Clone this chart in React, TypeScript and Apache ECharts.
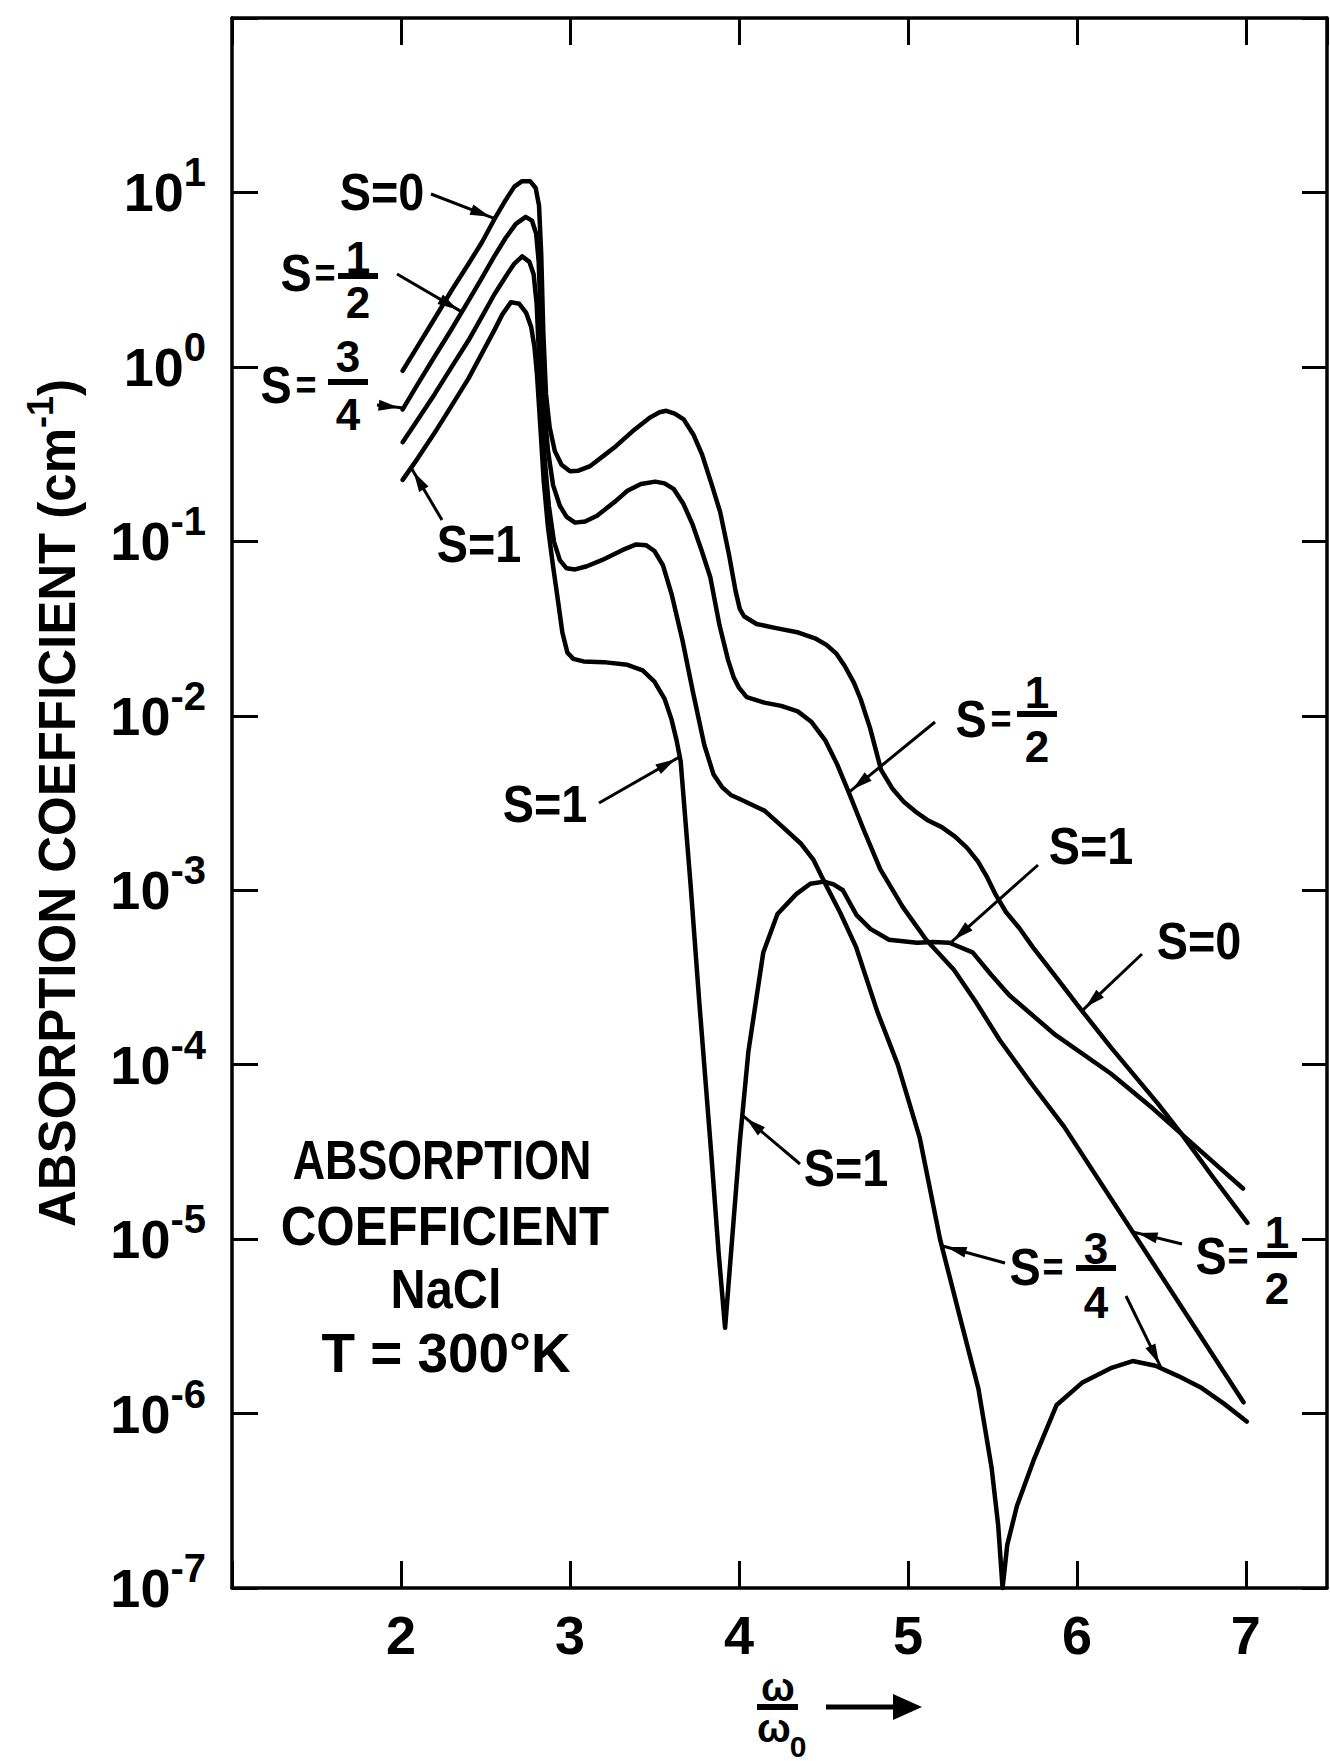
import React, { useEffect, useRef } from "react";
import * as echarts from "echarts";

type Pt = [number, number];

// omega/omega0 vs absorption coefficient (cm^-1)
const curveS0: Pt[] = [
  [2.01, 0.95], [2.1, 1.32], [2.2, 1.9], [2.3, 2.75], [2.4, 3.9], [2.48, 5.2],
  [2.552, 7.0], [2.618, 9.0], [2.671, 10.8], [2.717, 11.6], [2.764, 11.6], [2.797, 10.6],
  [2.817, 8.4], [2.83, 4.4], [2.842, 1.6], [2.858, 0.7], [2.88, 0.45], [2.91, 0.33],
  [2.95, 0.275], [3.0, 0.252], [3.05, 0.254], [3.12, 0.27], [3.2, 0.31], [3.27, 0.35],
  [3.37, 0.427], [3.47, 0.51], [3.53, 0.55], [3.57, 0.56], [3.62, 0.54], [3.673, 0.5],
  [3.73, 0.41], [3.782, 0.314], [3.84, 0.21], [3.889, 0.147], [3.94, 0.085], [3.98, 0.052],
  [4.005, 0.041], [4.03, 0.0372], [4.104, 0.0336], [4.22, 0.0318], [4.352, 0.03],
  [4.45, 0.0278], [4.518, 0.0255], [4.575, 0.0228], [4.626, 0.0193], [4.68, 0.0155],
  [4.721, 0.0124], [4.776, 0.0085], [4.841, 0.0049], [4.91, 0.0038], [4.977, 0.0032],
  [5.05, 0.0028], [5.114, 0.00253], [5.2, 0.0023], [5.279, 0.00203], [5.35, 0.00175],
  [5.415, 0.00146], [5.47, 0.00118], [5.52, 0.00094], [5.58, 0.00075], [5.66, 0.000605],
  [5.74, 0.00047], [5.824, 0.00037], [5.92, 0.00028], [6.014, 0.000213], [6.2, 0.000126],
  [6.478, 0.00006], [6.62, 0.00004], [6.8, 0.000023], [7.009, 0.0000124],
];

const curveS12: Pt[] = [
  [2.01, 0.57], [2.1, 0.8], [2.2, 1.15], [2.3, 1.65], [2.4, 2.4], [2.48, 3.25],
  [2.552, 4.3], [2.62, 5.5], [2.68, 6.6], [2.738, 7.25], [2.775, 6.9], [2.8, 5.8],
  [2.815, 4.0], [2.826, 2.0], [2.836, 1.0], [2.85, 0.55], [2.87, 0.33], [2.9, 0.21],
  [2.94, 0.16], [2.98, 0.138], [3.03, 0.128], [3.09, 0.13], [3.16, 0.14], [3.27, 0.17],
  [3.34, 0.195], [3.42, 0.213], [3.505, 0.22], [3.56, 0.215], [3.615, 0.199], [3.67, 0.165],
  [3.724, 0.126], [3.78, 0.088], [3.831, 0.062], [3.885, 0.033], [3.935, 0.021],
  [3.97, 0.0165], [4.0, 0.0145], [4.046, 0.0128], [4.15, 0.0119], [4.25, 0.0114],
  [4.348, 0.0106], [4.43, 0.0092], [4.512, 0.0072], [4.58, 0.0053], [4.647, 0.0037],
  [4.74, 0.0022], [4.836, 0.00132], [4.97, 0.0008], [5.108, 0.00052], [5.272, 0.00035],
  [5.4, 0.00023], [5.544, 0.000138], [5.73, 0.000078], [5.925, 0.000044], [6.45, 0.0000073],
  [6.986, 0.00000116],
];

const curveS34: Pt[] = [
  [2.01, 0.37], [2.1, 0.5], [2.2, 0.7], [2.3, 1.0], [2.4, 1.42], [2.48, 1.95],
  [2.552, 2.6], [2.62, 3.3], [2.67, 3.9], [2.717, 4.3], [2.76, 4.0], [2.785, 3.4],
  [2.803, 2.3], [2.816, 1.2], [2.83, 0.6], [2.85, 0.3], [2.875, 0.16], [2.905, 0.1],
  [2.94, 0.078], [2.98, 0.07], [3.03, 0.069], [3.1, 0.072], [3.188, 0.078], [3.309, 0.089],
  [3.392, 0.096], [3.45, 0.095], [3.5, 0.088], [3.55, 0.073], [3.601, 0.05], [3.666, 0.027],
  [3.729, 0.0135], [3.795, 0.0068], [3.85, 0.0046], [3.9, 0.0039], [3.955, 0.0035],
  [4.014, 0.0033], [4.151, 0.00286], [4.26, 0.0023], [4.369, 0.00184], [4.44, 0.0015],
  [4.505, 0.00112], [4.6, 0.00074], [4.694, 0.00047], [4.82, 0.0002], [4.94, 0.0001],
  [5.07, 0.000038], [5.19, 0.00001], [5.31, 0.0000035], [5.417, 0.00000139],
  [5.495, 0.00000049], [5.534, 0.00000023], [5.56, 0.0000001], [5.588, 0.000000177],
  [5.645, 0.000000295], [5.744, 0.00000054], [5.88, 0.00000112], [6.03, 0.0000015],
  [6.2, 0.00000182], [6.33, 0.000002], [6.465, 0.00000188], [6.6, 0.00000164],
  [6.739, 0.0000014], [6.87, 0.00000114], [7.005, 0.0000009],
];

const curveS1: Pt[] = [
  [2.01, 0.225], [2.1, 0.3], [2.2, 0.42], [2.3, 0.6], [2.4, 0.86], [2.48, 1.2],
  [2.552, 1.62], [2.6, 2.0], [2.651, 2.35], [2.7, 2.3], [2.74, 2.05], [2.77, 1.7],
  [2.79, 1.3], [2.805, 0.9], [2.822, 0.5], [2.845, 0.22], [2.87, 0.12], [2.9, 0.072],
  [2.93, 0.045], [2.955, 0.03], [2.985, 0.023], [3.02, 0.0212], [3.08, 0.0205],
  [3.2, 0.0203], [3.34, 0.0196], [3.43, 0.0182], [3.5, 0.0157], [3.56, 0.0125],
  [3.6, 0.0096], [3.63, 0.0073], [3.655, 0.0055], [3.714, 0.00107], [3.766, 0.000224],
  [3.836, 0.000031], [3.88, 0.0000083], [3.918, 0.0000031], [4.006, 0.000037],
  [4.056, 0.000119], [4.144, 0.00044], [4.228, 0.00073], [4.339, 0.00095], [4.422, 0.00109],
  [4.505, 0.00112], [4.56, 0.00108], [4.615, 0.001], [4.696, 0.00072], [4.778, 0.0006],
  [4.888, 0.00052], [5.054, 0.0005], [5.15, 0.000505], [5.245, 0.0005], [5.383, 0.00044],
  [5.49, 0.00033], [5.6, 0.00025], [5.873, 0.000148], [6.2, 0.000089], [6.45, 0.000056],
  [6.62, 0.00004], [6.8, 0.000028], [6.983, 0.0000195],
];

const xTickLabels = ["2", "3", "4", "5", "6", "7"];

const FONT = '"Liberation Sans", "DejaVu Sans", Arial, sans-serif';

// annotation layout (page pixels)
const intLabels = [
  { text: "S=0", x: 382, y: 192 },
  { text: "S=1", x: 479, y: 544 },
  { text: "S=1", x: 545, y: 804 },
  { text: "S=1", x: 1091, y: 846 },
  { text: "S=0", x: 1199, y: 941 },
  { text: "S=1", x: 846, y: 1168 },
];

const fracLabels = [
  { num: "1", den: "2", sx: 296, sy: 273, ex: 325, fx: 358, numY: 257, barY: 276, denY: 302 },
  { num: "3", den: "4", sx: 276, sy: 385, ex: 306, fx: 348, numY: 356, barY: 382, denY: 414 },
  { num: "1", den: "2", sx: 971, sy: 719, ex: 1001, fx: 1037, numY: 692, barY: 714, denY: 746 },
  { num: "3", den: "4", sx: 1025, sy: 1267, ex: 1053, fx: 1096, numY: 1248, barY: 1268, denY: 1302 },
  { num: "1", den: "2", sx: 1211, sy: 1256, ex: 1238, fx: 1277, numY: 1232, barY: 1255, denY: 1288 },
];

const arrows: { from: Pt; curve: Pt[]; at: number }[] = [
  { from: [431, 194], curve: curveS0, at: 2.555 },
  { from: [397, 274], curve: curveS12, at: 2.36 },
  { from: [377, 405], curve: curveS12, at: 2.015 },
  { from: [442, 520], curve: curveS1, at: 2.06 },
  { from: [599, 803], curve: curveS1, at: 3.65 },
  { from: [935, 722], curve: curveS12, at: 4.65 },
  { from: [1038, 865], curve: curveS1, at: 5.25 },
  { from: [1142, 954], curve: curveS0, at: 6.03 },
  { from: [800, 1164], curve: curveS1, at: 4.02 },
  { from: [1005, 1263], curve: curveS34, at: 5.2 },
  { from: [1126, 1296], curve: curveS34, at: 6.5 },
  { from: [1182, 1244], curve: curveS12, at: 6.33 },
];

const noteLines = [
  { text: "ABSORPTION", x: 442, y: 1160, sx: 0.8 },
  { text: "COEFFICIENT", x: 445, y: 1225, sx: 0.88 },
  { text: "NaCl", x: 446, y: 1288, sx: 0.87 },
  { text: "T = 300°K", x: 446, y: 1353, sx: 0.98 },
];

function valueAt(curve: Pt[], x: number): number {
  for (let i = 0; i < curve.length - 1; i++) {
    const [x0, y0] = curve[i];
    const [x1, y1] = curve[i + 1];
    if (x >= x0 && x <= x1) {
      const t = (x - x0) / (x1 - x0);
      return Math.pow(10, Math.log10(y0) + t * (Math.log10(y1) - Math.log10(y0)));
    }
  }
  return curve[curve.length - 1][1];
}

function txt(text: string, x: number, y: number, size: number, scaleX = 1) {
  return {
    type: "text",
    x,
    y,
    scaleX,
    silent: true,
    style: {
      text,
      fill: "#000",
      font: `bold ${size}px ${FONT}`,
      align: "center",
      verticalAlign: "middle",
      textAlign: "center",
      textVerticalAlign: "middle",
    },
  };
}

export default function App() {
  const ref = useRef<HTMLDivElement>(null);

  useEffect(() => {
    if (!ref.current) return;
    const chart = echarts.init(ref.current, null, { renderer: "svg" });
    const axisLineStyle = { color: "#000", width: 3.5 };
    const tickStyle = { color: "#000", width: 3 };

    const lineSeries = (name: string, data: Pt[]) => ({
      name,
      type: "line",
      data,
      showSymbol: false,
      symbol: "none",
      silent: true,
      clip: false,
      lineStyle: { color: "#000", width: 4.5, join: "round", cap: "round" },
      emphasis: { disabled: true },
    });

    const xLabelFormatter = (v: number) => {
      if (Math.abs(v - Math.round(v)) > 1e-6) return "";
      const s = String(Math.round(v));
      return xTickLabels.indexOf(s) >= 0 ? s : "";
    };

    const option: any = {
      animation: false,
      backgroundColor: "#fff",
      grid: {
        left: 232,
        top: 18,
        width: 1095,
        height: 1570,
        containLabel: false,
        outerBoundsMode: "none",
      },
      xAxis: [
        {
          type: "value",
          position: "bottom",
          min: 1,
          max: 7.48,
          interval: 1,
          axisLine: { show: true, lineStyle: axisLineStyle },
          axisTick: { show: true, inside: true, length: 27, lineStyle: tickStyle },
          splitLine: { show: false },
          axisLabel: {
            margin: 20,
            color: "#000",
            fontFamily: FONT,
            fontWeight: "bold",
            fontSize: 54,
            showMaxLabel: false,
            formatter: xLabelFormatter,
          },
        },
        {
          type: "value",
          position: "top",
          min: 1,
          max: 7.48,
          interval: 1,
          axisLine: { show: true, lineStyle: axisLineStyle },
          axisTick: { show: true, inside: true, length: 27, lineStyle: tickStyle },
          splitLine: { show: false },
          axisLabel: { show: false },
        },
      ],
      yAxis: [
        {
          type: "log",
          logBase: 10,
          position: "left",
          min: 1e-7,
          max: 100,
          splitNumber: 9,
          axisLine: { show: true, lineStyle: axisLineStyle },
          axisTick: { show: true, inside: true, length: 26, lineStyle: tickStyle },
          splitLine: { show: false },
          minorTick: { show: false },
          axisLabel: {
            margin: 26,
            formatter: (v: number) => {
              const e = Math.round(Math.log10(v));
              if (e >= 2) return "";
              const sup = e < 0 ? "-" + String(-e) : String(e);
              return `{b|10}{s|${sup}}`;
            },
            rich: {
              b: { fontFamily: FONT, fontWeight: "bold", fontSize: 54, lineHeight: 80, color: "#000" },
              s: {
                fontFamily: FONT,
                fontWeight: "bold",
                fontSize: 40,
                lineHeight: 40,
                verticalAlign: "top",
                color: "#000",
              },
            },
          },
          name: "{a|ABSORPTION COEFFICIENT (cm}{s|-1}{a|)}",
          nameLocation: "middle",
          nameRotate: 90,
          nameGap: 140,
          nameTextStyle: {
            rich: {
              a: { fontFamily: FONT, fontWeight: "bold", fontSize: 51, lineHeight: 70, color: "#000" },
              s: {
                fontFamily: FONT,
                fontWeight: "bold",
                fontSize: 36,
                lineHeight: 36,
                verticalAlign: "top",
                color: "#000",
              },
            },
          },
        },
        {
          type: "log",
          logBase: 10,
          position: "right",
          min: 1e-7,
          max: 100,
          splitNumber: 9,
          axisLine: { show: true, lineStyle: axisLineStyle },
          axisTick: { show: true, inside: true, length: 25, lineStyle: tickStyle },
          splitLine: { show: false },
          minorTick: { show: false },
          axisLabel: { show: false },
        },
      ],
      series: [
        lineSeries("S=0", curveS0),
        lineSeries("S=1/2", curveS12),
        lineSeries("S=3/4", curveS34),
        lineSeries("S=1", curveS1),
      ],
    };

    chart.setOption(option);

    const toPx = (p: Pt) =>
      chart.convertToPixel({ xAxisIndex: 0, yAxisIndex: 0 }, p) as unknown as number[];

    const g: any[] = [];

    intLabels.forEach((l) => g.push(txt(l.text, l.x, l.y, 52, 0.9)));

    fracLabels.forEach((f) => {
      g.push(txt("S", f.sx, f.sy, 52, 0.9));
      g.push(txt("=", f.ex, f.sy, 40, 0.9));
      g.push(txt(f.num, f.fx, f.numY, 44));
      g.push({
        type: "rect",
        silent: true,
        shape: { x: f.fx - 20, y: f.barY - 3, width: 40, height: 6 },
        style: { fill: "#000" },
      });
      g.push(txt(f.den, f.fx, f.denY, 44));
    });

    arrows.forEach((a) => {
      const tip = toPx([a.at, valueAt(a.curve, a.at)]);
      const [tx, ty] = a.from;
      const dx = tip[0] - tx;
      const dy = tip[1] - ty;
      const L = Math.hypot(dx, dy) || 1;
      const ux = dx / L;
      const uy = dy / L;
      const hx = tip[0] - ux * 5;
      const hy = tip[1] - uy * 5;
      const bx = hx - ux * 20;
      const by = hy - uy * 20;
      const px = -uy * 5.5;
      const py = ux * 5.5;
      g.push({
        type: "line",
        silent: true,
        shape: { x1: tx, y1: ty, x2: tip[0], y2: tip[1] },
        style: { stroke: "#000", lineWidth: 3 },
      });
      g.push({
        type: "polygon",
        silent: true,
        shape: { points: [[hx, hy], [bx + px, by + py], [bx - px, by - py]] },
        style: { fill: "#000" },
      });
    });

    noteLines.forEach((n) => g.push(txt(n.text, n.x, n.y, 56, n.sx)));

    // x-axis title: omega / omega0 with arrow
    g.push(txt("ω", 778, 1687, 40));
    g.push({
      type: "rect",
      silent: true,
      shape: { x: 757, y: 1704, width: 41, height: 6 },
      style: { fill: "#000" },
    });
    g.push(txt("ω", 774, 1728, 40));
    g.push(txt("0", 798, 1746, 30));
    g.push({
      type: "line",
      silent: true,
      shape: { x1: 826, y1: 1707, x2: 900, y2: 1707 },
      style: { stroke: "#000", lineWidth: 5 },
    });
    g.push({
      type: "polygon",
      silent: true,
      shape: { points: [[893, 1694], [922, 1707], [893, 1720]] },
      style: { fill: "#000" },
    });

    chart.setOption({ graphic: g });

    return () => chart.dispose();
  }, []);

  return (
    <div
      ref={ref}
      style={{ position: "absolute", left: 0, top: 0, width: 1330, height: 1761, background: "#fff" }}
    />
  );
}
